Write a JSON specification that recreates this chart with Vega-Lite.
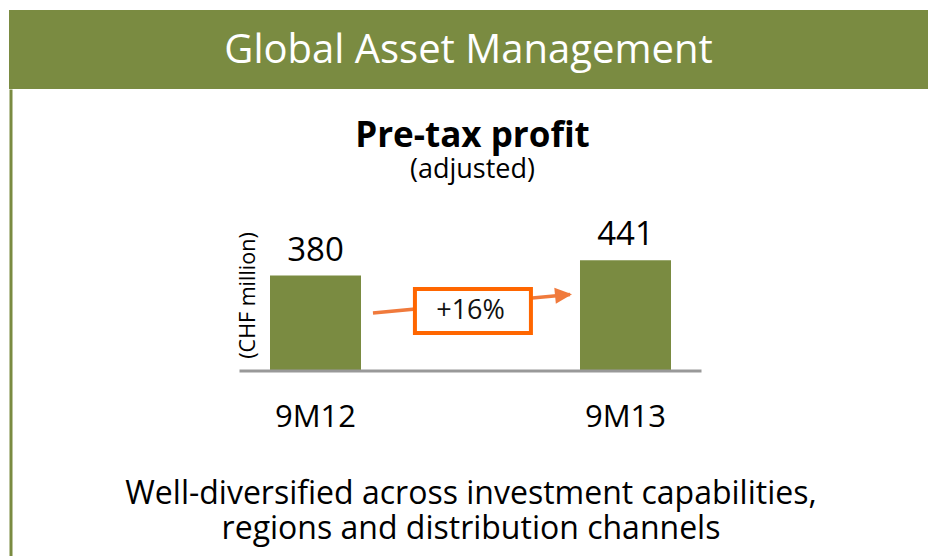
{
  "$schema": "https://vega.github.io/schema/vega-lite/v6.json",
  "padding": {"left": 9, "top": 10, "right": 0, "bottom": 0},
  "background": "white",
  "spacing": 0,
  "config": {"font": "Open Sans", "view": {"stroke": null}},
  "vconcat": [
    {
      "width": 919,
      "height": 79,
      "view": {"fill": "#7a8b41", "stroke": null},
      "data": {"values": [{"label": "Global Asset Management"}]},
      "mark": {"type": "text", "color": "white", "fontSize": 40, "baseline": "middle", "align": "center", "dy": 1},
      "encoding": {"text": {"field": "label"}}
    },
    {
      "width": 919,
      "height": 467,
      "title": {
        "text": "Pre-tax profit",
        "subtitle": "(adjusted)",
        "anchor": "middle",
        "fontSize": 35,
        "fontWeight": "bold",
        "color": "black",
        "subtitleFontSize": 27,
        "subtitleColor": "black",
        "subtitlePadding": 3,
        "offset": -94,
        "dx": 4
      },
      "data": {"values": [
        {"period": "9M12", "value": 380},
        {"period": "9M13", "value": 441}
      ]},
      "layer": [
        {
          "mark": {"type": "bar", "color": "#7a8b41", "width": 91},
          "encoding": {
            "x": {
              "field": "period",
              "type": "nominal",
              "scale": {"domain": ["9M12", "Δ", "9M13"], "range": [230.5, 692.5], "paddingInner": 0.01935, "paddingOuter": 0},
              "axis": {
                "orient": "bottom",
                "values": ["9M12", "9M13"],
                "offset": -185,
                "domain": false,
                "ticks": false,
                "grid": false,
                "labelAngle": 0,
                "labelFontSize": 31,
                "labelColor": "black",
                "labelPadding": 31,
                "labelBaseline": "top",
                "title": ["Well-diversified across investment capabilities,", "regions and distribution channels"],
                "titleFontSize": 32,
                "titleFontWeight": "normal",
                "titleColor": "black",
                "titleBaseline": "alphabetic",
                "titleLineHeight": 35,
                "titleY": 132
              }
            },
            "y": {
              "field": "value",
              "type": "quantitative",
              "scale": {"domain": [-736.5, 1122.6], "nice": false, "zero": false},
              "axis": {
                "orient": "left",
                "domain": true,
                "domainColor": "#7a8b41",
                "domainWidth": 3,
                "offset": -1.5,
                "ticks": false,
                "labels": false,
                "grid": false,
                "title": "(CHF million)",
                "titleFontSize": 21.5,
                "titleFontWeight": "normal",
                "titleColor": "black",
                "titleAngle": -90,
                "titleAlign": "center",
                "titleBaseline": "middle",
                "titleX": 237.5,
                "titleY": 206
              }
            }
          }
        },
        {
          "mark": {"type": "text", "fontSize": 33, "color": "black", "baseline": "alphabetic", "dy": -15},
          "encoding": {
            "x": {"field": "period", "type": "nominal"},
            "y": {"field": "value", "type": "quantitative"},
            "text": {"field": "value", "type": "quantitative"}
          }
        },
        {
          "data": {"values": [{"from": "9M12", "to": "9M13"}]},
          "mark": {"type": "rule", "color": "#999999", "strokeWidth": 3},
          "encoding": {
            "x": {"field": "from", "type": "nominal", "bandPosition": 0},
            "x2": {"field": "to", "bandPosition": 1},
            "y": {"datum": 0}
          }
        },
        {
          "data": {"values": [{"from": "9M12", "to": "9M13", "change": "+16%"}]},
          "layer": [
            {
              "mark": {"type": "rule", "color": "#f07a3c", "strokeWidth": 3.5},
              "encoding": {
                "x": {"field": "from", "type": "nominal", "bandPosition": 0.878},
                "x2": {"field": "to", "bandPosition": 0.135},
                "y": {"datum": 231},
                "y2": {"datum": 304.5}
              }
            },
            {
              "mark": {"type": "point", "shape": "M0,0L-2,-0.95L-2,0.95Z", "filled": true, "color": "#f07a3c", "opacity": 1, "size": 289, "angle": 354.5},
              "encoding": {
                "x": {"field": "to", "type": "nominal", "bandPosition": 0.148},
                "y": {"datum": 306}
              }
            },
            {
              "mark": {"type": "point", "shape": "M-1,-0.3793L1,-0.3793L1,0.3793L-1,0.3793Z", "filled": false, "fill": "white", "fillOpacity": 1, "stroke": "#ff6600", "strokeWidth": 4, "opacity": 1, "size": 13456},
              "encoding": {
                "x": {"datum": "Δ", "bandPosition": 0.516},
                "y": {"datum": 239}
              }
            },
            {
              "mark": {"type": "text", "fontSize": 27, "color": "#111111", "baseline": "middle"},
              "encoding": {
                "x": {"datum": "Δ", "bandPosition": 0.5},
                "y": {"datum": 238},
                "text": {"field": "change"}
              }
            }
          ]
        }
      ]
    }
  ]
}
